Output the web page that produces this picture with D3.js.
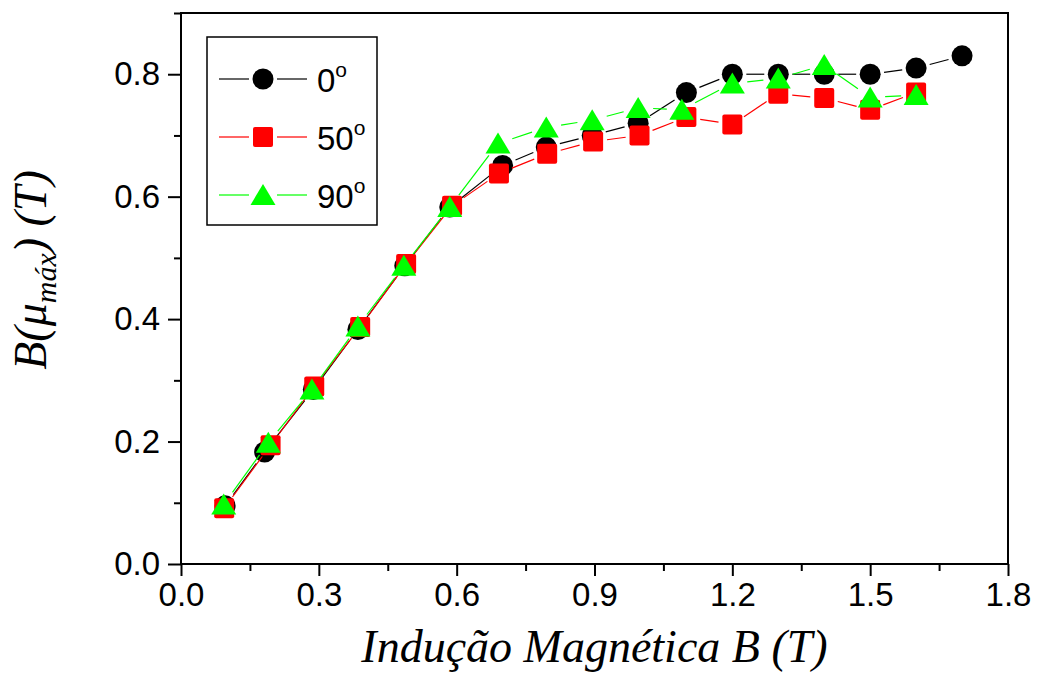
<!DOCTYPE html>
<html>
<head>
<meta charset="utf-8">
<style>
    body { margin: 0; background: #fff; }
    svg { display: block; }
    .tick text { font-family: "Liberation Sans", Arial, sans-serif; font-size: 33px; fill: #000; }
    .tick line { stroke: #000; stroke-width: 2; }
    .domain { display: none; }
    .title { font-family: "Liberation Serif", "Times New Roman", serif; font-style: italic; font-size: 46px; fill: #000; }
    .leg text { font-family: "Liberation Sans", Arial, sans-serif; font-size: 33px; fill: #000; }
</style>
</head>
<body>
<svg width="1037" height="675"></svg>

<script src="https://d3js.org/d3.v7.min.js"></script>
<script>
// values
const xTicks = [0.0, 0.3, 0.6, 0.9, 1.2, 1.5, 1.8];
const xMinor = [0.15, 0.45, 0.75, 1.05, 1.35, 1.65];
const yTicks = [0.0, 0.2, 0.4, 0.6, 0.8];
const yMinor = [0.1, 0.3, 0.5, 0.7, 0.9];

const seriesNames = ["0", "50", "90"];

const x0 = [0.096, 0.182, 0.288, 0.385, 0.487, 0.585, 0.70, 0.795, 0.895, 0.995, 1.10, 1.20, 1.30, 1.40, 1.50, 1.60, 1.70];
const y0 = [0.095, 0.183, 0.285, 0.383, 0.487, 0.583, 0.651, 0.681, 0.700, 0.720, 0.770, 0.800, 0.800, 0.800, 0.800, 0.810, 0.830];

const x50 = [0.094, 0.195, 0.290, 0.390, 0.490, 0.590, 0.692, 0.797, 0.897, 0.998, 1.10, 1.20, 1.30, 1.40, 1.50, 1.60];
const y50 = [0.091, 0.194, 0.290, 0.387, 0.490, 0.585, 0.638, 0.670, 0.690, 0.700, 0.730, 0.718, 0.768, 0.761, 0.742, 0.770];

const x90 = [0.093, 0.190, 0.285, 0.385, 0.485, 0.585, 0.690, 0.795, 0.895, 0.995, 1.09, 1.20, 1.30, 1.40, 1.50, 1.60];
const y90 = [0.097, 0.198, 0.285, 0.388, 0.487, 0.583, 0.687, 0.713, 0.725, 0.745, 0.742, 0.785, 0.793, 0.815, 0.762, 0.766];

const svg = d3.select("svg");
const margin = { top: 13, right: 29, bottom: 111, left: 181 };
const width = 1037, height = 675;

const x = d3.scaleLinear().domain([0, 1.8]).range([margin.left, width - margin.right]);
const y = d3.scaleLinear().domain([0, 0.9]).range([height - margin.bottom, margin.top]);

// axes: major + minor ticks, outward
svg.append("g")
    .attr("transform", `translate(0,${height - margin.bottom})`)
    .call(d3.axisBottom(x).tickValues(xMinor).tickSize(7).tickFormat(""));
svg.append("g")
    .attr("transform", `translate(0,${height - margin.bottom})`)
    .call(d3.axisBottom(x).tickValues(xTicks).tickSize(12).tickPadding(7).tickFormat(d3.format(".1f")));

svg.append("g")
    .attr("transform", `translate(${margin.left},0)`)
    .call(d3.axisLeft(y).tickValues(yMinor).tickSize(7).tickFormat(""));
svg.append("g")
    .attr("transform", `translate(${margin.left},0)`)
    .call(d3.axisLeft(y).tickValues(yTicks).tickSize(13).tickPadding(8).tickFormat(d3.format(".1f")));

// frame
svg.append("rect")
    .attr("x", x(0)).attr("y", y(0.9))
    .attr("width", x(1.8) - x(0)).attr("height", y(0) - y(0.9))
    .attr("fill", "none").attr("stroke", "#000").attr("stroke-width", 2);

// marker shapes
function marker(g, shape, cx, cy, color) {
    if (shape === "circle") {
        g.append("circle").attr("cx", cx).attr("cy", cy).attr("r", 10.5).attr("fill", color);
    } else if (shape === "square") {
        g.append("rect").attr("x", cx - 10).attr("y", cy - 10).attr("width", 20).attr("height", 20)
            .attr("rx", 2).attr("fill", color);
    } else {
        g.append("path")
            .attr("d", `M${cx},${cy - 11}L${cx + 12.5},${cy + 10}L${cx - 12.5},${cy + 10}Z`)
            .attr("fill", color);
    }
}

const series = [
    { name: seriesNames[0], xs: x0, ys: y0, color: "#000000", shape: "circle", gap: 14 },
    { name: seriesNames[1], xs: x50, ys: y50, color: "#ff0000", shape: "square", gap: 14 },
    { name: seriesNames[2], xs: x90, ys: y90, color: "#00ff00", shape: "triangle", gap: 15 }
];

const plot = svg.append("g");
series.forEach(s => {
    const pts = s.xs.map((v, i) => [x(v), y(s.ys[i])]);
    // connecting line with small gaps around the symbols
    for (let i = 0; i < pts.length - 1; i++) {
        const [ax, ay] = pts[i], [bx, by] = pts[i + 1];
        const d = Math.hypot(bx - ax, by - ay);
        if (d <= 2 * s.gap) continue;
        const ux = (bx - ax) / d, uy = (by - ay) / d;
        plot.append("line")
            .attr("x1", ax + ux * s.gap).attr("y1", ay + uy * s.gap)
            .attr("x2", bx - ux * s.gap).attr("y2", by - uy * s.gap)
            .attr("stroke", s.color).attr("stroke-width", 1.2);
    }
    pts.forEach(p => marker(plot, s.shape, p[0], p[1], s.color));
});

// legend
const leg = svg.append("g").attr("class", "leg");
leg.append("rect").attr("x", 207).attr("y", 37).attr("width", 170).attr("height", 188)
    .attr("fill", "#fff").attr("stroke", "#000").attr("stroke-width", 1.5);
series.forEach((s, i) => {
    const cy = 79 + i * 58;
    leg.append("line").attr("x1", 219).attr("x2", 249).attr("y1", cy).attr("y2", cy)
        .attr("stroke", s.color).attr("stroke-width", 1.2);
    leg.append("line").attr("x1", 277).attr("x2", 307).attr("y1", cy).attr("y2", cy)
        .attr("stroke", s.color).attr("stroke-width", 1.2);
    marker(leg, s.shape, 263, cy, s.color);
    const t = leg.append("text").attr("x", 317).attr("y", cy + 13);
    t.append("tspan").text(s.name);
    t.append("tspan").attr("dy", -15).style("font-size", "21px").text("o");
});

// axis titles
svg.append("text")
    .attr("class", "title")
    .attr("x", (x(0) + x(1.8)) / 2)
    .attr("y", 662)
    .attr("text-anchor", "middle")
    .text("Indução Magnética B (T)");

const yt = svg.append("text")
    .attr("class", "title")
    .attr("transform", "translate(46,270) rotate(-90)")
    .attr("text-anchor", "middle");
yt.append("tspan").text("B(μ");
yt.append("tspan").attr("dy", 10).style("font-size", "30px").text("máx");
yt.append("tspan").attr("dy", -10).text(") (T)");
</script>
</body>
</html>
